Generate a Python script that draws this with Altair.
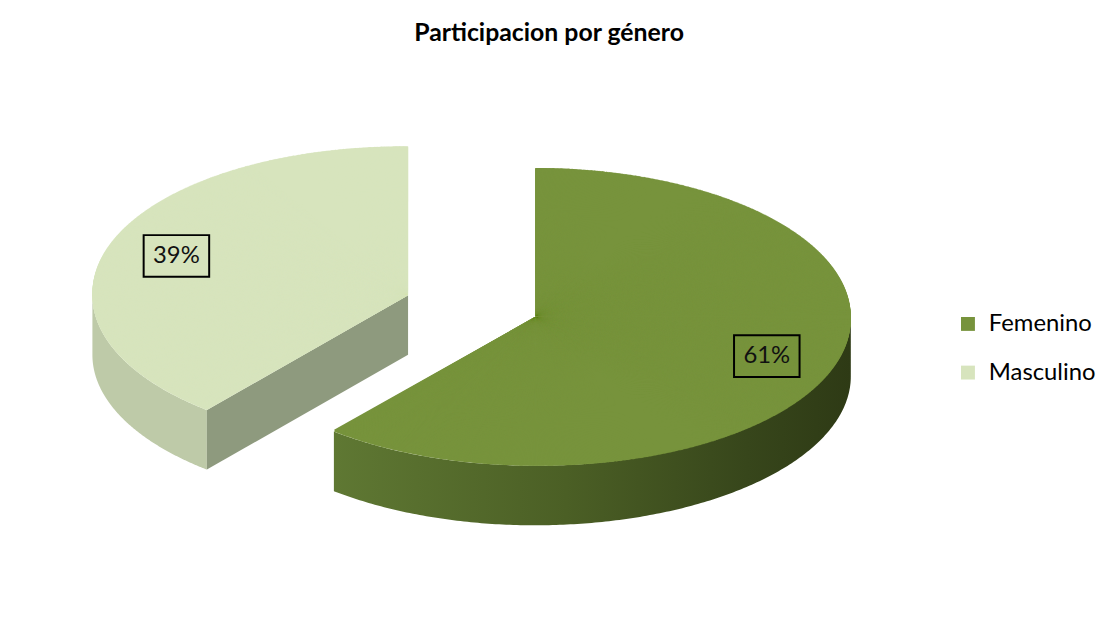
import altair as alt
import pandas as pd

# ---- data ----
categories = ["Femenino", "Masculino"]
shares = [61, 39]
labels = ["61%", "39%"]
top_colors = ["#77933C", "#D7E4BD"]

df = pd.DataFrame({"category": categories, "value": shares, "label": labels})

# ---- geometry / style (pixels in plot area) ----
A, B = 318, 150        # ellipse half-axes of the tilted pie
CX, CY = 462, 258      # pie centre before explosion
DX, DY = 68, 32        # explosion distance (projected)
THICK = 60             # fake 3D thickness
STEP = 0.25            # wedge step, degrees
LF = 0.78              # label position (fraction of radius)

fem_grad = alt.Gradient(
    gradient="linear",
    stops=[
        alt.GradientStop(offset=0, color="#5F7833"),
        alt.GradientStop(offset=0.45, color="#4B5F25"),
        alt.GradientStop(offset=0.8, color="#37461B"),
        alt.GradientStop(offset=1, color="#2E3A15"),
    ],
    x1=0, x2=1, y1=0, y2=0,
)

base = (
    alt.Chart(df)
    .transform_joinaggregate(total="sum(value)")
    .transform_window(cum="sum(value)", sort=[alt.SortField("category")])
    .transform_calculate(start="2*PI*(datum.cum - datum.value)/datum.total")
    .transform_calculate(end="2*PI*datum.cum/datum.total")
    .transform_calculate(mid="(datum.start + datum.end)/2")
    .transform_calculate(cx=f"{CX} + {DX}*sin(datum.mid)")
    .transform_calculate(cy=f"{CY} - {DY}*cos(datum.mid)")
    .transform_calculate(lx=f"datum.cx + {LF}*{A}*sin(datum.mid)")
    .transform_calculate(ly=f"datum.cy - {LF}*{B}*cos(datum.mid)")
    .transform_calculate(qs=f"atan2({A}*sin(datum.start), {B}*cos(datum.start))")
    .transform_calculate(ps="datum.qs < 0 ? datum.qs + 2*PI : datum.qs")
    .transform_calculate(qe=f"atan2({A}*sin(datum.end), {B}*cos(datum.end))")
    .transform_calculate(pe0="datum.qe < 0 ? datum.qe + 2*PI : datum.qe")
    .transform_calculate(pe="datum.pe0 <= datum.ps ? datum.pe0 + 2*PI : datum.pe0")
)

xc = alt.X("cx:Q", scale=None, axis=None)
yc = alt.Y("cy:Q", scale=None, axis=None)

layers = []

# ---- front side wall of each slice (smooth area) ----
side_base = (
    base.transform_calculate(lo="max(datum.start, PI/2)")
    .transform_calculate(hi="min(datum.end, 3*PI/2)")
    .transform_filter("datum.hi > datum.lo")
    .transform_calculate(j="sequence(0, 201)")
    .transform_flatten(["j"])
    .transform_calculate(f="datum.lo + datum.j*(datum.hi - datum.lo)/200")
    .transform_calculate(sx=f"datum.cx + {A}*sin(datum.f)")
    .transform_calculate(sy=f"datum.cy - {B}*cos(datum.f)")
    .transform_calculate(sy2=f"datum.sy + {THICK}")
    .transform_calculate(sidecol="datum.category == 'Femenino' ? '#4B5F25' : '#BECAA8'")
)
side_enc = dict(
    x=alt.X("sx:Q", scale=None, axis=None),
    y=alt.Y("sy:Q", scale=None, axis=None),
    y2="sy2:Q",
)
layers.append(
    side_base.transform_filter(alt.datum.category == "Femenino")
    .mark_area(fill=fem_grad)
    .encode(**side_enc)
)
layers.append(
    side_base.transform_filter(alt.datum.category == "Masculino")
    .mark_area()
    .encode(**side_enc, fill=alt.Fill("sidecol:N", scale=None), detail="category:N")
)

# ---- radial cut face (the visible one at the start edge of each slice) ----
faces = (
    base.transform_calculate(pt="[0, 1]")
    .transform_flatten(["pt"])
    .transform_calculate(fx=f"datum.cx + datum.pt*{A}*sin(datum.start)")
    .transform_calculate(fy=f"datum.cy - datum.pt*{B}*cos(datum.start)")
    .transform_calculate(fy2=f"datum.fy + {THICK}")
    .transform_calculate(facecol="datum.category == 'Femenino' ? '#2F3B16' : '#8E9A7E'")
    .mark_area()
    .encode(
        x=alt.X("fx:Q", scale=None, axis=None),
        y=alt.Y("fy:Q", scale=None, axis=None),
        y2="fy2:Q",
        fill=alt.Fill("facecol:N", scale=None),
        detail="category:N",
    )
)
layers.append(faces)

legend = alt.Legend(
    orient="none",
    legendX=950,
    legendY=264,
    title=None,
    labelFontSize=24,
    labelFont="Lato",
    labelColor="black",
    symbolType="square",
    symbolSize=196,
    symbolStrokeWidth=0,
    rowPadding=25,
    labelOffset=9,
)
color_enc = alt.Color("category:N", scale=alt.Scale(domain=categories, range=top_colors), legend=legend)

# ---- inner part of the top face (hides seams between thin wedges) ----
under = base.mark_arc(outerRadius=B - 1).encode(
    theta=alt.Theta("ps:Q", scale=None, stack=None),
    theta2=alt.Theta2("pe:Q"),
    x=xc,
    y=yc,
    color=color_enc,
)
layers.append(under)

# ---- top face: thin wedges projecting the pie onto an ellipse ----
wedges = (
    base.transform_calculate(n=f"ceil((datum.end - datum.start) / ({STEP}*PI/180))")
    .transform_calculate(steps="sequence(0, datum.n)")
    .transform_flatten(["steps"])
    .transform_calculate(f0="datum.start + datum.steps*(datum.end - datum.start)/datum.n")
    .transform_calculate(f1="datum.start + (datum.steps + 1)*(datum.end - datum.start)/datum.n")
    .transform_calculate(fm="(datum.f0 + datum.f1)/2")
    .transform_calculate(q0=f"atan2({A}*sin(datum.f0), {B}*cos(datum.f0))")
    .transform_calculate(p0="datum.q0 < 0 ? datum.q0 + 2*PI : datum.q0")
    .transform_calculate(q1=f"atan2({A}*sin(datum.f1), {B}*cos(datum.f1))")
    .transform_calculate(q1b="datum.q1 < 0 ? datum.q1 + 2*PI : datum.q1")
    .transform_calculate(p1="datum.q1b < datum.p0 ? datum.q1b + 2*PI : datum.q1b")
    .transform_calculate(p1x="datum.steps < datum.n - 1 ? datum.p1 + 0.01 : datum.p1")
    .transform_calculate(r=f"sqrt(pow({A}*sin(datum.fm), 2) + pow({B}*cos(datum.fm), 2))")
)

top = wedges.mark_arc().encode(
    theta=alt.Theta("p0:Q", scale=None, stack=None),
    theta2=alt.Theta2("p1x:Q"),
    radius=alt.Radius("r:Q", scale=None),
    x=xc,
    y=yc,
    color=color_enc,
)
layers.append(top)

boxes = base.mark_point(
    shape="M-1,-0.636L1,-0.636L1,0.636L-1,0.636Z",
    size=66 * 66,
    filled=False,
    stroke="black",
    strokeWidth=2,
    opacity=1,
).encode(x=alt.X("lx:Q", scale=None, axis=None), y=alt.Y("ly:Q", scale=None, axis=None))

texts = base.mark_text(fontSize=24, font="Lato", color="#111111").encode(
    x=alt.X("lx:Q", scale=None, axis=None),
    y=alt.Y("ly:Q", scale=None, axis=None),
    text="label:N",
)
layers += [boxes, texts]

chart = (
    alt.layer(*layers)
    .properties(
        width=1080,
        height=570,
        padding={"top": 11, "left": 5, "right": 5, "bottom": 5},
        title=alt.TitleParams(
            "Participacion por género",
            fontSize=25,
            font="Lato",
            fontWeight="bold",
            anchor="middle",
            color="black",
        ),
    )
    .configure_view(stroke=None)
)

chart.save("out.html", embed_options={"renderer": "svg", "actions": False})
